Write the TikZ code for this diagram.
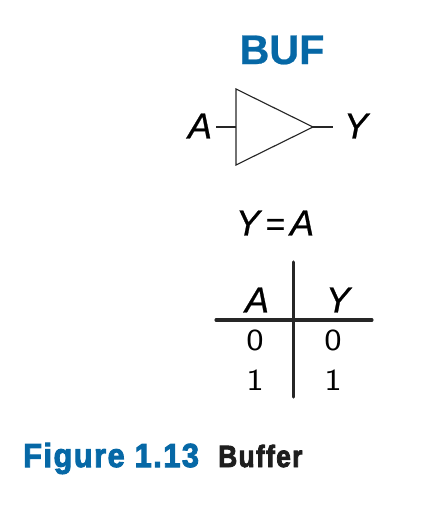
\documentclass[tikz,border=0pt]{standalone}
\usepackage{fontspec}
\setmainfont{Liberation Sans}
\newfontfamily\symfont[FakeBold=0.7]{Liberation Sans Italic}
\newfontfamily\capfont[FakeBold=3,LetterSpace=5]{Liberation Sans Bold}
\newfontfamily\headfont[FakeBold=0.6]{Liberation Sans Bold}
\definecolor{bufblue}{RGB}{6,104,166}
\definecolor{capblack}{RGB}{30,30,30}
\tikzset{
  sym/.style={inner sep=0pt, font=\fontsize{27}{27}\symfont},
  bit/.style={inner sep=0pt, xscale=1.2, font=\fontsize{23}{23}\selectfont\sffamily},
  wire/.style={line width=0.85pt, draw=black!85},
  rule/.style={line width=2.3pt, draw=black!85, line cap=round},
  capt/.style={inner sep=0pt, anchor=base west, xscale=0.86}
}
\begin{document}
\begin{tikzpicture}[x=0.75pt,y=-0.75pt]
\useasboundingbox (0,0) rectangle (438,510);
\node[inner sep=0pt, text=bufblue, font=\fontsize{31}{31}\headfont] (title) at (282,50){BUF};
\coordinate (top) at (236,89);
\coordinate (bot) at (236,165);
\coordinate (tip) at (313,127);
\coordinate (inpin) at (236,127);
\coordinate (inend) at (216,127);
\coordinate (outend) at (333,127);
\draw[wire, line join=miter](top) -- (tip) -- (bot) -- cycle;
\draw[wire](inend) -- (inpin);
\draw[wire](tip) -- (outend);
\node[sym] (inlabel) at (200,126){A};
\node[sym] (outlabel) at (356,126){Y};
\node[sym] (eqn) at (275,223){Y\kern4pt{\fontsize{25}{25}\symfont=}\kern4pt A};
\coordinate (vtop) at (293.5,262);
\coordinate (vbot) at (293.5,397);
\coordinate (hleft) at (216,320);
\coordinate (hright) at (372,320);
\draw[rule](vtop) -- (vbot);
\draw[rule](hleft) -- (hright);
\node[sym] (headA) at (257,300){A};
\node[sym] (headY) at (338,300){Y};
\node[bit] (a0) at (255,340){0};
\node[bit] (y0) at (333,340){0};
\node[bit] (a1) at (255,380){1};
\node[bit] (y1) at (333,380){1};
\node[capt, xscale=1.07, text=bufblue, font=\fontsize{25}{25}\capfont] (figno) at (23,467){Figure 1.13};
\node[capt, text=capblack, font=\fontsize{23}{23}\capfont] (figname) at (218,467){Buffer};
\end{tikzpicture}
\end{document}
